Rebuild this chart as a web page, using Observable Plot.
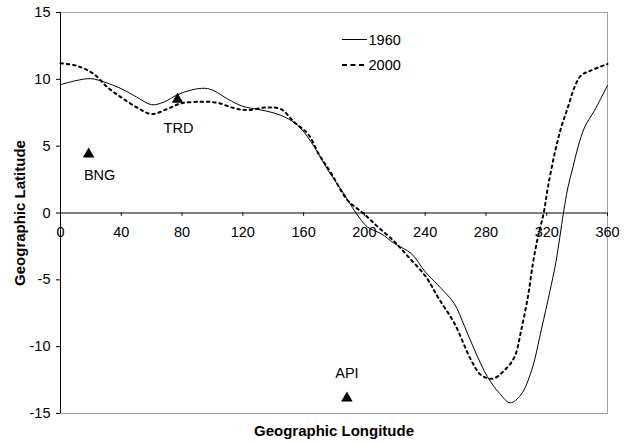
<!DOCTYPE html>
<html>
<head>
<meta charset="utf-8">
<script src="https://cdn.jsdelivr.net/npm/d3@7"></script>
<script src="https://cdn.jsdelivr.net/npm/@observablehq/plot@0.6"></script>
<style>
  body { margin: 0; background: #fff; font-family: "Liberation Sans", Arial, sans-serif; }
  #wrap { position: relative; width: 627px; height: 444px; }
  #legend { position: absolute; left: 0; top: 0; pointer-events: none; }
</style>
</head>
<body>
<div id="wrap"></div>
<script>
// ---- Data ----
const lon1960 = [0,10,20,30,40,50,60,68,77,86,95,101,110,120,130,140,150,158,167,176,185,194.5,202,211,220,231,240,248,259,266,272.5,281,289,296,303,310,316.5,322,326,331,334,337.3,340.6,345,351.5,360];
const lat1960 = [9.6,9.9,10.05,9.75,9.3,8.68,8.1,8.3,8.85,9.2,9.33,9.15,8.53,7.98,7.75,7.5,7.04,6.35,4.95,3.2,1.7,0,-1.05,-1.55,-2.3,-3.05,-4.4,-5.35,-6.75,-8.5,-10.25,-12.25,-13.5,-14.2,-13.6,-11.8,-8.7,-5.9,-3.7,0,1.94,3.44,4.94,6.43,7.68,9.55];

const lon2000 = [0,11,22,31,40,51,60,70,79,92,103,114,123,136,145,154,163,170,178,189,199,209,220,228.6,240.6,248.3,259.3,270.3,277,284.6,292.2,298.8,303.2,307.6,310.9,314.2,318,320.8,325.2,329.6,334,338.3,342.7,349.3,360];
const lat2000 = [11.2,11.0,10.39,9.39,8.65,7.85,7.4,7.77,8.19,8.32,8.25,7.85,7.7,7.9,7.77,6.78,5.9,4.4,3.0,0.95,0,-1.05,-2.17,-3.24,-4.79,-6.28,-8.27,-11.02,-12.14,-12.39,-11.77,-10.77,-8.77,-6.28,-3.78,-1.8,0,1.94,4.44,6.43,7.93,9.42,10.3,10.67,11.15];

const siteNames = ["BNG","TRD","API"];
const siteLon = [18.5, 77, 188.5];
const siteLat = [4.4, 8.5, -13.85];

const xTicks = [0,40,80,120,160,200,240,280,320,360];
const yTicks = [-15,-10,-5,0,5,10,15];

const seriesNames = ["1960","2000"];
const xTitle = "Geographic Longitude";
const yTitle = "Geographic Latitude";

// ---- Build tables ----
const d1960 = lon1960.map((x,i) => ({lon: x, lat: lat1960[i]}));
const d2000 = lon2000.map((x,i) => ({lon: x, lat: lat2000[i]}));
const sites = siteNames.map((n,i) => ({name: n, lon: siteLon[i], lat: siteLat[i]}));

const font = "Liberation Sans, Arial, sans-serif";
const fs = 14.5;

const chart = Plot.plot({
  width: 627,
  height: 444,
  marginTop: 12,
  marginRight: 20,
  marginBottom: 31,
  marginLeft: 60,
  style: {fontFamily: font, fontSize: fs + "px", color: "#000", background: "#fff", overflow: "visible"},
  x: {domain: [0, 360], axis: null},
  y: {domain: [-15, 15], axis: null},
  marks: [
    Plot.frame({stroke: "#a0a0a0"}),
    Plot.axisY({ticks: yTicks, tickSize: 4, tickPadding: 6, label: null, fontSize: fs, tickFormat: d => String(d)}),
    Plot.ruleX([0], {stroke: "black"}),
    Plot.ruleY([0], {stroke: "black"}),
    Plot.ruleX(xTicks, {x: d => d, y1: 0, y2: -0.25, stroke: "black"}),
    Plot.text(xTicks, {x: d => d, y: 0, dy: 19, text: d => String(d), fontSize: fs}),
    Plot.line(d1960, {x: "lon", y: "lat", curve: "catmull-rom", stroke: "black", strokeWidth: 1}),
    Plot.line(d2000, {x: "lon", y: "lat", curve: "catmull-rom", stroke: "black", strokeWidth: 2, strokeDasharray: "2.5,3.8"}),
    Plot.dot(sites, {x: "lon", y: "lat", symbol: "triangle", r: 4.3, fill: "black", stroke: "none"}),
    Plot.text(sites.filter(d => d.name === "BNG"), {x: "lon", y: "lat", text: "name", dx: 11, dy: 21, fontSize: fs}),
    Plot.text(sites.filter(d => d.name === "TRD"), {x: "lon", y: "lat", text: "name", dx: 1, dy: 29, fontSize: fs}),
    Plot.text(sites.filter(d => d.name === "API"), {x: "lon", y: "lat", text: "name", dy: -25, fontSize: fs}),
    Plot.text([yTitle], {frameAnchor: "left", textAnchor: "middle", dx: -40, rotate: -90, text: d => d, fontWeight: "bold", fontSize: 15}),
    Plot.text([xTitle], {frameAnchor: "bottom", textAnchor: "middle", dy: 22, text: d => d, fontWeight: "bold", fontSize: 15})
  ]
});

const wrap = document.getElementById("wrap");
wrap.appendChild(chart);

// ---- Legend overlay ----
const ns = "http://www.w3.org/2000/svg";
const leg = document.createElementNS(ns, "svg");
leg.setAttribute("id", "legend");
leg.setAttribute("width", 627);
leg.setAttribute("height", 444);
const rows = [
  {y: 39.5, w: 1, dash: null},
  {y: 65, w: 2, dash: "5,3.5"}
];
seriesNames.forEach((name, i) => {
  const r = rows[i];
  const ln = document.createElementNS(ns, "line");
  ln.setAttribute("x1", 342); ln.setAttribute("x2", 367);
  ln.setAttribute("y1", r.y); ln.setAttribute("y2", r.y);
  ln.setAttribute("stroke", "black");
  ln.setAttribute("stroke-width", r.w);
  if (r.dash) ln.setAttribute("stroke-dasharray", r.dash);
  leg.appendChild(ln);
  const t = document.createElementNS(ns, "text");
  t.setAttribute("x", 368.5); t.setAttribute("y", r.y);
  t.setAttribute("dy", "0.35em");
  t.setAttribute("font-family", font);
  t.setAttribute("font-size", fs);
  t.textContent = name;
  leg.appendChild(t);
});
wrap.appendChild(leg);
</script>
</body>
</html>
